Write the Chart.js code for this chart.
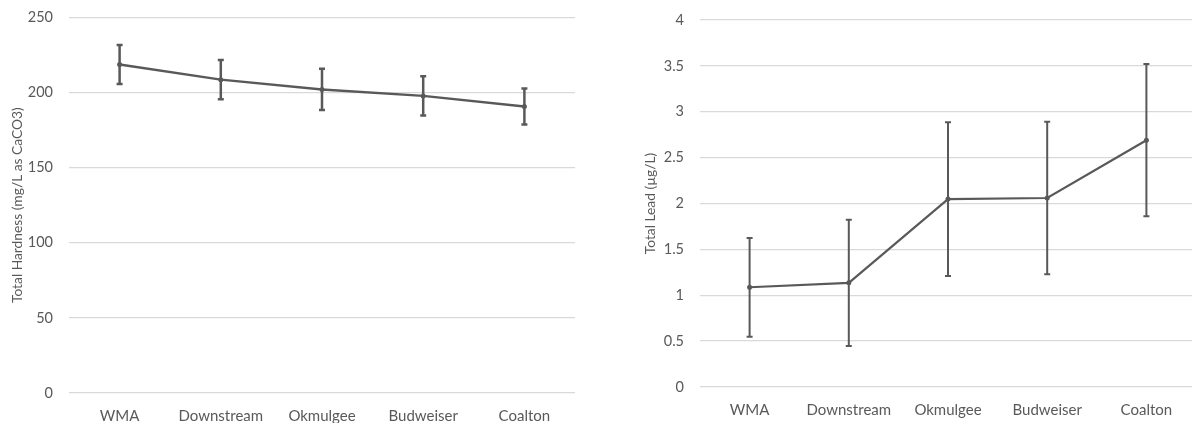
<!DOCTYPE html>
<html>
<head>
<meta charset="utf-8">
<script src="https://cdn.jsdelivr.net/npm/chart.js@4"></script>
<style>
  html, body { margin: 0; padding: 0; background: #fff; overflow: hidden; width: 1192px; height: 423px; }
  .box { position: absolute; top: 0; height: 423px; }
  #b1 { left: 0; width: 600px; }
  #b2 { left: 600px; width: 600px; }
</style>
</head>
<body>
<div class="box" id="b1"><canvas id="c1"></canvas></div>
<div class="box" id="b2"><canvas id="c2"></canvas></div>
<script>
const categories = ['WMA', 'Downstream', 'Okmulgee', 'Budweiser', 'Coalton'];
const hardnessMean = [218.6, 208.5, 202.0, 197.7, 190.6];
const hardnessErr  = [13.0, 13.1, 13.7, 13.1, 12.0];
const leadMean = [1.087, 1.135, 2.048, 2.060, 2.690];
const leadErr  = [0.538, 0.687, 0.838, 0.830, 0.830];

const INK = '#595959';
const GRID = '#d9d9d9';
const FONT = 'Lato, "Open Sans", sans-serif';

const errorBars = {
  id: 'errorBars',
  afterDatasetsDraw(chart, args, opts) {
    const ctx = chart.ctx;
    const y = chart.scales.y;
    chart.data.datasets.forEach((ds, di) => {
      const meta = chart.getDatasetMeta(di);
      meta.data.forEach((pt, i) => {
        const e = ds.errors[i];
        const v = ds.data[i];
        const yTop = y.getPixelForValue(v + e);
        const yBot = y.getPixelForValue(v - e);
        ctx.save();
        ctx.strokeStyle = INK;
        ctx.lineWidth = opts.width;
        ctx.beginPath();
        ctx.moveTo(pt.x, yTop); ctx.lineTo(pt.x, yBot);
        ctx.moveTo(pt.x - opts.cap, yTop); ctx.lineTo(pt.x + opts.cap, yTop);
        ctx.moveTo(pt.x - opts.cap, yBot); ctx.lineTo(pt.x + opts.cap, yBot);
        ctx.stroke();
        ctx.restore();
      });
    });
  }
};

function makeChart(id, means, errs, yMax, step, title, axisW, titlePad, pad, xH, barW, lineW) {
  return new Chart(document.getElementById(id), {
    type: 'line',
    data: {
      labels: categories,
      datasets: [{
        data: means,
        errors: errs,
        borderColor: INK,
        backgroundColor: INK,
        borderWidth: lineW,
        pointRadius: 2.5,
        pointBorderWidth: 0,
        tension: 0,
        fill: false
      }]
    },
    options: {
      responsive: true,
      maintainAspectRatio: false,
      animation: false,
      events: [],
      layout: { padding: pad },
      plugins: {
        legend: { display: false },
        tooltip: { enabled: false },
        errorBars: { width: barW, cap: 3 }
      },
      scales: {
        x: {
          offset: true,
          border: { display: false },
          grid: { display: false, drawTicks: false },
          ticks: { color: INK, font: { family: FONT, size: 15 }, padding: 14, maxRotation: 0, autoSkip: false },
          afterFit(s) { s.height = xH; }
        },
        y: {
          min: 0, max: yMax,
          border: { display: false },
          grid: { color: GRID, lineWidth: 1.3, drawTicks: false },
          ticks: { stepSize: step, color: INK, font: { family: FONT, size: 14.5 }, padding: 16,
                   callback: v => String(Math.round(v * 100) / 100) },
          title: { display: true, text: title, color: INK, font: { family: FONT, size: 13.8 }, padding: { top: titlePad, bottom: 0 } },
          afterFit(s) { s.width = axisW; s.paddingTop = 0; s.paddingBottom = 0; }
        }
      }
    },
    plugins: [errorBars]
  });
}

makeChart('c1', hardnessMean, hardnessErr, 250, 50, 'Total Hardness (mg/L as CaCO3)', 69, 9,
  { top: 17.3, right: 25, bottom: 0, left: 0 }, 30, 2.5, 2.4);
makeChart('c2', leadMean, leadErr, 4, 0.5, 'Total Lead (\u00b5g/L)', 100, 42.5,
  { top: 20, right: 3, bottom: 0, left: 0 }, 36, 2, 2.2);
</script>
</body>
</html>
